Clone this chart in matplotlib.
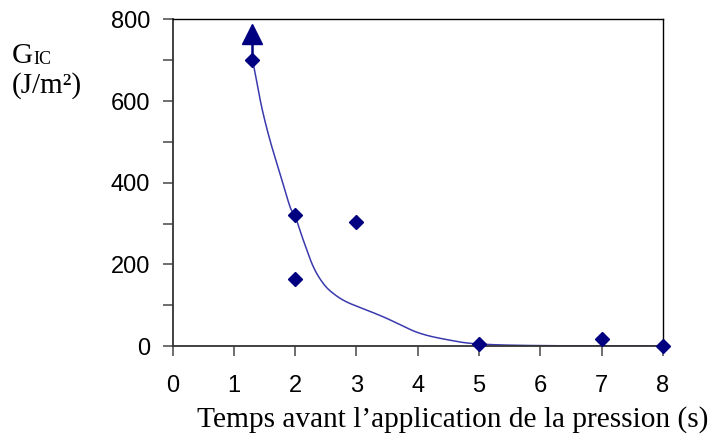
import numpy as np
import matplotlib
matplotlib.use("Agg")
import matplotlib.pyplot as plt

# points mesures
temps = [1.3, 2, 2, 3, 5, 7, 8]
gic = [700, 320, 165, 305, 5, 18, 0]

# borne inferieure (fleche) au point 1.3 s
fleche_x = [1.3, 1.3]
fleche_y = [700, 765]

# courbe de tendance
courbe_x = [1.3, 1.35, 1.455, 1.59, 1.754, 1.917, 2.0, 2.134, 2.297, 2.46,
            2.62, 2.84, 3.17, 3.49, 4.0, 4.5, 5.0, 6.0, 8.0]
courbe_y = [705, 667, 585, 504, 422, 341, 318, 259, 194, 153,
            129, 108, 88, 68, 33, 15, 5, 1, 0]


def catmull_rom(xs, ys, n=30):
    # lissage type excel
    px = np.r_[xs[0], xs, xs[-1]]
    py = np.r_[ys[0], ys, ys[-1]]
    ox, oy = [], []
    for i in range(1, len(px) - 2):
        t = np.linspace(0, 1, n)
        for p, o in ((px, ox), (py, oy)):
            p0, p1, p2, p3 = p[i - 1], p[i], p[i + 1], p[i + 2]
            o.extend(0.5 * ((2 * p1) + (-p0 + p2) * t
                            + (2 * p0 - 5 * p1 + 4 * p2 - p3) * t ** 2
                            + (-p0 + 3 * p1 - 3 * p2 + p3) * t ** 3))
    return np.array(ox), np.array(oy)


plt.rcParams['font.family'] = 'Liberation Sans'

fig = plt.figure(figsize=(7.17, 4.38), dpi=100)
ax = fig.add_axes([0.2406, 0.21, 0.6841, 0.7455])

cx, cy = catmull_rom(courbe_x, courbe_y)
ax.plot(cx, cy, color='#3a3aae', lw=1.1, zorder=2)
ax.plot(fleche_x, fleche_y, color='#000080', lw=1.8, zorder=3)
ax.plot(fleche_x[1], fleche_y[1], marker='^', ms=15, color='#000080',
        ls='none', zorder=4)
ax.plot(temps, gic, marker='D', ms=7, color='#000080', ls='none',
        zorder=5, clip_on=False)

ax.set_xlim(0, 8)
ax.set_ylim(0, 800)
ax.set_xticks(range(0, 9))
ax.set_yticks(range(0, 801, 200))
ax.set_yticks(range(100, 800, 200), minor=True)

for s in ['left', 'bottom']:
    ax.spines[s].set_color('#333333')
    ax.spines[s].set_linewidth(1.3)
for s in ['top', 'right']:
    ax.spines[s].set_color('black')
    ax.spines[s].set_linewidth(1.0)

ax.tick_params(axis='x', direction='out', length=7, width=1.2, color='#555555',
               labelsize=17, pad=14)
ax.tick_params(axis='y', which='both', direction='out', length=7, width=1.2,
               color='#555555', labelsize=17, pad=9)

serif = 'Liberation Serif'
fig.text(0.632, 0.025, "Temps avant l\u2019application de la pression (s)",
         ha='center', va='baseline', fontsize=21.2, family=serif)
fig.text(0.016, 0.856, "G", fontsize=21, family=serif, va='baseline')
fig.text(0.046, 0.854, "IC", fontsize=13, family=serif, va='baseline')
fig.text(0.016, 0.788, "(J/m\u00b2)", fontsize=21, family=serif, va='baseline')

fig.savefig('out.png', dpi=100)
